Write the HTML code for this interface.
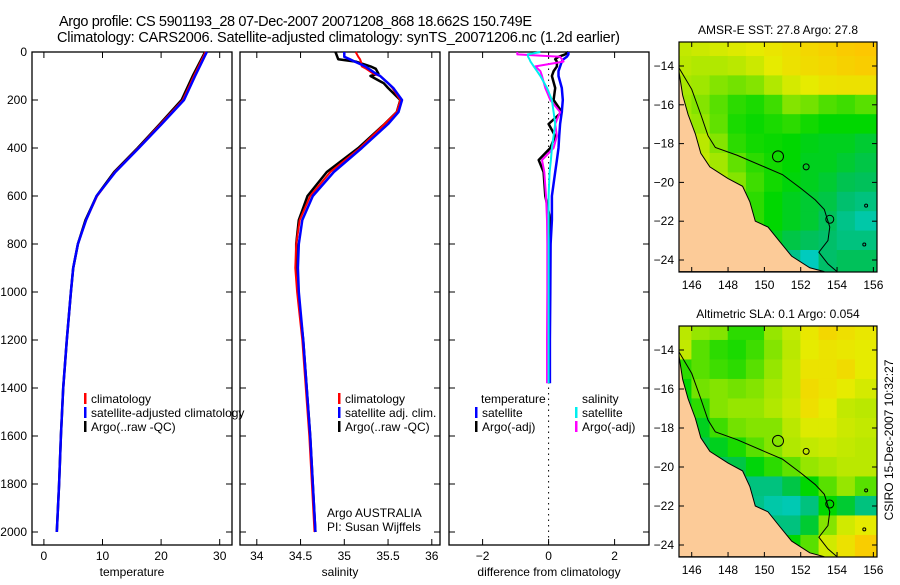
<!DOCTYPE html>
<html><head><meta charset="utf-8"><style>
body{margin:0;background:#fff;}
svg{font-family:"Liberation Sans",sans-serif;}
text{font-size:12px;fill:#000;}
</style></head><body>
<svg id="fig" width="900" height="580" viewBox="0 0 900 580">
<text x="59" y="26" style="font-size:14.5px" textLength="473">Argo profile: CS 5901193_28 07-Dec-2007 20071208_868 18.662S 150.749E</text>
<text x="57" y="42" style="font-size:14.5px" textLength="563">Climatology: CARS2006. Satellite-adjusted climatology: synTS_20071206.nc (1.2d earlier)</text>
<g id="p1"></g>
<g id="p2"></g>
<g id="p3"></g>
<g id="m1"></g>
<g id="m2"></g>
<text transform="translate(893,440) rotate(-90)" text-anchor="middle">CSIRO 15-Dec-2007 10:32:27</text>
</svg>
<script>
// ---- profile data ----
const depthT = [0,100,200,300,400,500,600,700,800,900,1000,1200,1400,1600,1800,2000];
const tempClim = [27.6,25.6,23.7,19.9,16.1,12.1,9.1,7.2,5.8,5.0,4.6,3.9,3.3,2.9,2.6,2.2];
const tempSat  = [27.8,25.8,23.9,20.1,16.2,12.2,9.0,7.2,5.8,5.0,4.6,3.9,3.3,2.9,2.6,2.2];
const tempArgo = [27.5,25.4,23.5,19.8,16.0,12.0,9.0,7.1,5.8,5.0,4.6,3.9,3.3,2.9,2.6,2.2];
const depthS = [0,20,30,40,60,70,90,100,130,150,200,250,300,400,500,600,700,800,900,1000,1200,1400,1600,1800,2000];
const salClim = [35.13,35.16,35.18,35.19,35.2,35.25,35.33,35.41,35.5,35.55,35.64,35.6,35.46,35.18,34.84,34.61,34.49,34.45,34.44,34.46,34.52,34.56,34.6,34.63,34.66];
const salSat  = [35.0,35.0,35.06,35.12,35.24,35.28,35.36,35.41,35.5,35.56,35.66,35.62,35.5,35.2,34.88,34.64,34.52,34.48,34.47,34.48,34.53,34.57,34.61,34.64,34.67];
const salArgo = [34.9,34.92,34.93,35.13,35.3,35.36,35.39,35.3,35.45,35.5,35.64,35.6,35.46,35.16,34.8,34.58,34.48,34.45,34.45,34.47,34.53,34.57,34.61,34.64,34.67];
const depthD = [0,10,20,30,40,60,80,100,150,200,250,300,350,400,450,500,600,700,800,1000,1200,1380];
const dTempSat  = [0.6,0.6,0.55,0.45,0.4,0.35,0.3,0.3,0.4,0.43,0.4,0.35,0.32,0.3,0.25,0.2,0.1,0.1,0.06,0.05,0.04,0.04];
const dTempArgo = [0.6,0.5,0.3,0.2,0.25,0.25,0.15,0.1,0.2,0.15,0.4,0.0,0.2,0.05,-0.3,-0.15,-0.1,0.05,0.05,0.03,0.02,0.0];
const dSalSat   = [-0.25,-0.63,-0.62,-0.58,-0.55,-0.45,-0.35,-0.25,-0.05,0.1,0.15,0.2,0.15,0.1,0.07,0.03,0.0,0.0,0.0,0.0,0.0,0.0];
const dSalArgo  = [-0.95,-0.95,0.35,0.4,0.45,-0.4,-0.25,-0.2,-0.1,0.05,0.35,0.2,0.25,0.15,-0.2,-0.13,-0.08,-0.05,-0.04,-0.04,-0.05,-0.05];
const depthTicks = [0,200,400,600,800,1000,1200,1400,1600,1800,2000];
const tTicks = [0,10,20,30];
const sTicks = [34,34.5,35,35.5,36];
const dTicks = [-2,0,2];

const NS='http://www.w3.org/2000/svg';
function mk(parent,tag,attrs,txt){const e=document.createElementNS(NS,tag);for(const k in attrs)e.setAttribute(k,attrs[k]);if(txt!==undefined)e.textContent=txt;parent.appendChild(e);return e;}
const Y0=52,YS=0.24,BOT=545;
const yD=d=>Y0+d*YS;

function panel(g,x0,x1,xf,ticks,label,fmt){
  const r=mk(g,'rect',{x:x0,y:Y0,width:x1-x0,height:BOT-Y0,fill:'none',stroke:'#000','stroke-width':1.3});
  
  ticks.forEach(t=>{const x=xf(t);
    mk(g,'line',{x1:x,x2:x,y1:BOT,y2:BOT-6,stroke:'#000'});mk(g,'line',{x1:x,x2:x,y1:Y0,y2:Y0+6,stroke:'#000'});
    const tx=mk(g,'text',{x:x,y:BOT+15,'text-anchor':'middle'},fmt(t));
    });
  depthTicks.forEach(d=>{const y=yD(d);
    mk(g,'line',{x1:x0,x2:x0+6,y1:y,y2:y,stroke:'#000'});mk(g,'line',{x1:x1,x2:x1-6,y1:y,y2:y,stroke:'#000'});});
  const lb=mk(g,'text',{x:(x0+x1)/2,y:BOT+31,'text-anchor':'middle'},label);
  
}
function line(g,xs,ds,xf,col,w,name){
  const p=xs.map((v,i)=>xf(v).toFixed(1)+','+yD(ds[i]).toFixed(1)).join(' ');
  const e=mk(g,'polyline',{points:p,fill:'none',stroke:col,'stroke-width':w,'stroke-linejoin':'round'});
  
}
function leg(g,x,y,col,txt,name){
  mk(g,'rect',{x:x,y:y-10,width:2.5,height:11,fill:col});
  const t=mk(g,'text',{x:x+7,y:y},txt);
  
}
// Panel 1
const p1=document.getElementById('p1');
const xT=t=>43.9+t*5.86;
panel(p1,32,232,xT,tTicks,'temperature',t=>t);
depthTicks.forEach(d=>{const t=mk(p1,'text',{x:27,y:yD(d)+4,'text-anchor':'end'},d);
  });
line(p1,tempArgo,depthT,xT,'#000',2.5,'temp-argo-line');
line(p1,tempClim,depthT,xT,'#f00',2,'temp-climatology-line');
line(p1,tempSat,depthT,xT,'#00f',2.5,'temp-satellite-line');
leg(p1,84,403,'#f00','climatology','legend-climatology');
leg(p1,84,417,'#00f','satellite-adjusted climatology','legend-satellite-adjusted');
leg(p1,84,431,'#000','Argo(..raw -QC)','legend-argo');
// Panel 2
const p2=document.getElementById('p2');
const xS=s=>256.8+(s-34)*87.5;
panel(p2,240,440,xS,sTicks,'salinity',s=>s);
line(p2,salArgo,depthS,xS,'#000',2.5,'sal-argo-line');
line(p2,salClim,depthS,xS,'#f00',2,'sal-climatology-line');
line(p2,salSat,depthS,xS,'#00f',2.5,'sal-satellite-line');
leg(p2,338,403,'#f00','climatology','legend-climatology');
leg(p2,338,417,'#00f','satellite adj. clim.','legend-satellite-adj');
leg(p2,338,431,'#000','Argo(..raw -QC)','legend-argo');
let t1=mk(p2,'text',{x:327,y:517},'Argo AUSTRALIA');
let t2=mk(p2,'text',{x:327,y:531},'PI: Susan Wijffels');
// Panel 3
const p3=document.getElementById('p3');
const xDf=v=>548.6+v*33;
panel(p3,449,649,xDf,dTicks,'difference from climatology',v=>v<0?'\u2212'+(-v):v);
mk(p3,'line',{x1:xDf(0),x2:xDf(0),y1:Y0,y2:BOT,stroke:'#000','stroke-dasharray':'1.5,4'});
line(p3,dTempArgo,depthD,xDf,'#000',2.5,'dtemp-argo-line');
line(p3,dTempSat,depthD,xDf,'#00f',2.5,'dtemp-satellite-line');
line(p3,dSalArgo,depthD,xDf,'#f0f',2,'dsal-argo-line');
line(p3,dSalSat,depthD,xDf,'#0ee',2,'dsal-satellite-line');
let t3=mk(p3,'text',{x:481,y:403},'temperature');
let t4=mk(p3,'text',{x:582,y:403},'salinity');
leg(p3,475,417,'#00f','satellite','legend-temp-satellite');
leg(p3,475,431,'#000','Argo(-adj)','legend-temp-argo');
leg(p3,575,417,'#0ee','satellite','legend-sal-satellite');
leg(p3,575,431,'#f0f','Argo(-adj)','legend-sal-argo');

// ---- map data (rows lat -13..-24, cols lon 145.5..155.5) ----
const mapLats=[-13,-14,-15,-16,-17,-18,-19,-20,-21,-22,-23,-24];
const mapLons=[145.5,146.5,147.5,148.5,149.5,150.5,151.5,152.5,153.5,154.5,155.5];
const sstGrid=[
[.72,.74,.76,.78,.8,.83,.86,.9,.93,.96,.98],
[.7,.68,.68,.7,.74,.8,.85,.88,.9,.93,.95],
[.66,.64,.6,.58,.6,.68,.76,.8,.84,.85,.85],
[.64,.6,.55,.5,.48,.52,.6,.58,.54,.52,.55],
[.66,.62,.56,.48,.46,.48,.5,.47,.45,.45,.45],
[.7,.7,.6,.5,.47,.46,.45,.43,.42,.42,.4],
[.78,.72,.65,.56,.5,.47,.45,.42,.42,.4,.38],
[.72,.7,.68,.6,.52,.47,.44,.42,.4,.37,.36],
[.6,.6,.6,.6,.5,.45,.42,.4,.38,.33,.3],
[.6,.6,.6,.55,.5,.45,.42,.4,.36,.28,.22],
[.6,.6,.6,.5,.45,.42,.38,.36,.34,.3,.3],
[.6,.6,.6,.5,.4,.35,.28,.18,.34,.36,.36]];
const slaGrid=[
[.7,.62,.6,.5,.5,.62,.72,.82,.9,.86,.82],
[.72,.55,.5,.48,.52,.6,.7,.8,.84,.82,.8],
[.5,.55,.52,.5,.55,.62,.72,.84,.84,.88,.8],
[.45,.58,.6,.58,.6,.66,.72,.88,.84,.8,.76],
[.42,.5,.6,.62,.62,.68,.74,.86,.8,.72,.7],
[.4,.42,.52,.58,.6,.6,.7,.78,.78,.74,.72],
[.4,.38,.42,.48,.55,.6,.68,.72,.74,.72,.7],
[.38,.36,.36,.38,.44,.5,.56,.62,.66,.7,.7],
[.36,.34,.34,.32,.3,.3,.38,.45,.55,.62,.55],
[.36,.34,.34,.32,.28,.22,.2,.3,.45,.4,.3],
[.36,.34,.34,.34,.34,.3,.3,.4,.6,.75,.8],
[.36,.34,.34,.36,.38,.4,.45,.55,.75,.85,.95]];
const coastLon=[145.3,145.5,145.8,146.2,146.5,147,148,148.8,149.2,149.5,150.2,150.8,151.5,152.5,153.3,145.3];
const coastLat=[-14.3,-15.5,-16.5,-17.5,-18.5,-19.2,-19.8,-20.2,-21,-22,-22.3,-23,-23.8,-24.4,-24.6,-24.6];
const shelfLon=[145.3,146.0,146.5,146.9,147.3,148.5,150,151,152,152.8,153.3,153.6,153.5,153,153.5,154];
const shelfLat=[-14.1,-15.2,-16.5,-17.6,-18.2,-18.6,-19.2,-19.6,-20.3,-20.9,-21.4,-22.3,-23,-23.6,-24.2,-24.6];
const lonTicks=[146,148,150,152,154,156];
const latTicks=[-14,-16,-18,-20,-22,-24];

function col(v){const st=[[0.15,[0,205,205]],[0.35,[0,190,100]],[0.45,[0,215,0]],[0.62,[150,230,0]],[0.8,[230,235,0]],[1,[255,195,0]]];
  if(v<=st[0][0])return 'rgb('+st[0][1]+')';
  for(let i=1;i<st.length;i++){if(v<=st[i][0]){const a=st[i-1],b=st[i],f=(v-a[0])/(b[0]-a[0]);
    return 'rgb('+a[1].map((c,j)=>Math.round(c+(b[1][j]-c)*f)).join(',')+')';}}
  return 'rgb(255,195,0)';}
function map(id,top,bot,grid,title,name){
  const g=document.getElementById(id);const L=679,R=877;
  const xl=lon=>L+(lon-145.3)*(R-L)/(156.2-145.3);
  const y14=top+24,y24=bot-12;
  const yl=lat=>y14+(-14-lat)*(y24-y14)/10;
  const cid='clip'+id;
  const cp=mk(g,'clipPath',{id:cid});mk(cp,'rect',{x:L,y:top,width:R-L,height:bot-top});
  const cg=mk(g,'g',{'clip-path':'url(#'+cid+')'});
  grid.forEach((row,i)=>row.forEach((v,j)=>{
    const c=mk(cg,'rect',{x:xl(mapLons[j]-0.5)-0.3,y:yl(mapLats[i]+0.5)-0.3-(i==0?20:0),width:xl(mapLons[j]+0.5)-xl(mapLons[j]-0.5)+0.8+(j==0||j==10?10:0),height:yl(mapLats[i]-0.5)-yl(mapLats[i]+0.5)+0.8+(i==0?20:0)+(i==11?10:0),fill:col(v)});
    if(j==0)c.setAttribute('x',L-10);
    }));
  const land=mk(cg,'polygon',{points:coastLon.map((lo,i)=>xl(lo)+','+yl(coastLat[i])).join(' ')+' '+(L-5)+','+(bot+5),fill:'#fccb98',stroke:'#000','stroke-width':1});
  
  const sh=mk(cg,'polyline',{points:shelfLon.map((lo,i)=>xl(lo)+','+yl(shelfLat[i])).join(' '),fill:'none',stroke:'#000','stroke-width':1});
  
  [[150.75,-18.66,1.1],[152.3,-19.2,0.6],[153.6,-21.9,0.8],[155.6,-21.2,0.3],[155.5,-23.2,0.3]].forEach(r=>{
    const e=mk(cg,'circle',{cx:xl(r[0]),cy:yl(r[1]),r:r[2]*5,fill:'none',stroke:'#000'});
    });
  const fr=mk(g,'rect',{x:L,y:top,width:R-L,height:bot-top,fill:'none',stroke:'#000','stroke-width':1.2});
  
  lonTicks.forEach(lo=>{const x=xl(lo);mk(g,'line',{x1:x,x2:x,y1:top,y2:top+5,stroke:'#000'});mk(g,'line',{x1:x,x2:x,y1:bot,y2:bot-5,stroke:'#000'});
    const t=mk(g,'text',{x:x,y:bot+17,'text-anchor':'middle'},lo);});
  latTicks.forEach(la=>{const y=yl(la);mk(g,'line',{x1:L,x2:L+5,y1:y,y2:y,stroke:'#000'});mk(g,'line',{x1:R,x2:R-5,y1:y,y2:y,stroke:'#000'});
    const t=mk(g,'text',{x:L-5,y:y+4,'text-anchor':'end'},'\u2212'+(-la));});
  const tt=mk(g,'text',{x:(L+R)/2,y:top-8,'text-anchor':'middle'},title);
  
}
map('m1',42,272,sstGrid,'AMSR-E SST: 27.8 Argo: 27.8','sst-map-title');
map('m2',326,557,slaGrid,'Altimetric SLA: 0.1 Argo: 0.054','sla-map-title');
</script>
</body></html>
